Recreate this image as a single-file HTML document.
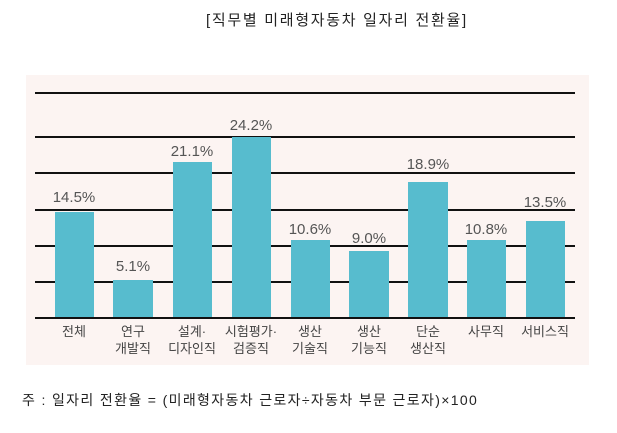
<!DOCTYPE html>
<html><head><meta charset="utf-8"><style>
body{margin:0;width:617px;height:433px;background:#fff;position:relative;overflow:hidden;font-family:"Liberation Sans","Noto Sans CJK KR",sans-serif}
.t{position:absolute;white-space:nowrap}
</style></head><body>
<div class="t" style="left:206px;top:9px;font-size:15px;letter-spacing:1.7px;color:#222">[직무별 미래형자동차 일자리 전환율]</div>
<div style="position:absolute;left:26px;top:75px;width:563px;height:290px;background:#fcf4f2"></div>
<svg width="617" height="433" style="position:absolute;left:0;top:0">
<g stroke="#111" stroke-width="2">
<line x1="35" x2="575" y1="93" y2="93"/><line x1="35" x2="575" y1="137" y2="137"/>
<line x1="35" x2="575" y1="173" y2="173"/><line x1="35" x2="575" y1="210" y2="210"/>
<line x1="35" x2="575" y1="246" y2="246"/><line x1="35" x2="575" y1="282" y2="282"/>
</g>
<g fill="#57bcce">
<rect x="55" y="212" width="39" height="106"/><rect x="113" y="280" width="40" height="38"/>
<rect x="173" y="162" width="39" height="156"/><rect x="232" y="137" width="39" height="181"/>
<rect x="291" y="240" width="39" height="78"/><rect x="349" y="251" width="40" height="67"/>
<rect x="408" y="182" width="40" height="136"/><rect x="467" y="240" width="39" height="78"/>
<rect x="526" y="221" width="39" height="97"/>
</g>
<line x1="35" x2="575" y1="318" y2="318" stroke="#111" stroke-width="2"/>
<g font-size="15" fill="#555" text-anchor="middle" font-family="Liberation Sans,sans-serif">
<text x="74" y="202">14.5%</text><text x="133" y="271">5.1%</text><text x="192" y="156">21.1%</text>
<text x="251" y="130">24.2%</text><text x="310" y="234">10.6%</text><text x="369" y="243">9.0%</text>
<text x="428" y="169">18.9%</text><text x="486" y="234">10.8%</text><text x="545" y="207">13.5%</text>
</g>
<g font-size="13" fill="#444" text-anchor="middle" font-family="Liberation Sans,Noto Sans CJK KR,sans-serif">
<text x="74" y="336">전체</text>
<text x="133" y="336">연구</text><text x="133" y="353">개발직</text>
<text x="192" y="336">설계·</text><text x="192" y="353">디자인직</text>
<text x="251" y="336">시험평가·</text><text x="251" y="353">검증직</text>
<text x="310" y="336">생산</text><text x="310" y="353">기술직</text>
<text x="369" y="336">생산</text><text x="369" y="353">기능직</text>
<text x="428" y="336">단순</text><text x="428" y="353">생산직</text>
<text x="486" y="336">사무직</text><text x="545" y="336">서비스직</text>
</g>
</svg>
<div class="t" style="left:22px;top:390px;font-size:14px;letter-spacing:1.35px;color:#222">주 : 일자리 전환율 = (미래형자동차 근로자÷자동차 부문 근로자)×100</div>
</body></html>
